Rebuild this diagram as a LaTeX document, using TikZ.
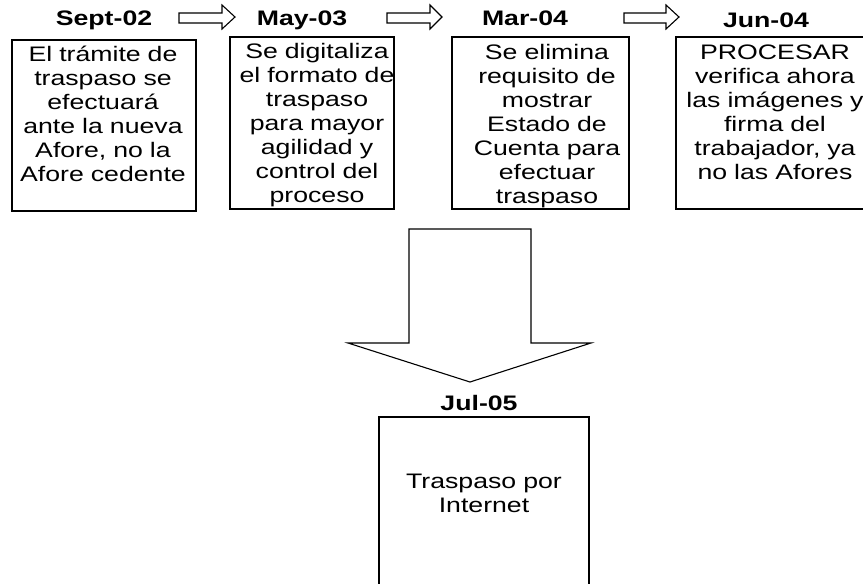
\documentclass[tikz,border=0pt]{standalone}
\usepackage{fontspec}
\setmainfont[FakeStretch=1.27]{Liberation Sans}
\usetikzlibrary{positioning}

\begin{document}
\begin{tikzpicture}[x=1pt, y=-1pt, line join=miter,
  caja/.style={draw, line width=1.3pt, inner sep=0pt},
  texto/.style={text width=220pt, align=center, inner sep=0pt, font=\fontsize{21}{24}\selectfont},
  fecha/.style={inner sep=0pt, font=\fontsize{21}{24}\selectfont\bfseries},
  flecha/.style={draw, line width=1.1pt}]

\useasboundingbox (0,0) rectangle (863,584);
\clip (0,0) rectangle (863,584);

% =============================================================================
% CAJAS (fondo)
% =============================================================================
\node[caja, minimum width=184pt, minimum height=171pt] (caja1) at (104,125.5) {};
\node[caja, minimum width=164pt, minimum height=172pt] (caja2) at (312,123) {};
\node[caja, minimum width=177pt, minimum height=172pt] (caja3) at (540.5,123) {};
\node[caja, minimum width=198pt, minimum height=172pt] (caja4) at (775,123) {};
\node[caja, minimum width=210pt, minimum height=203pt] (caja5) at (484,518.5) {};

% =============================================================================
% FECHAS
% =============================================================================
\node[fecha, anchor=base] (sep02) at (104,25) {Sept-02};
\node[fecha, anchor=base] (may03) at (302,25) {May-03};
\node[fecha, anchor=base] (mar04) at (525,25) {Mar-04};
\node[fecha, anchor=base] (jun04) at (766,27) {Jun-04};
\node[fecha, anchor=base] (jul05) at (479,410) {Jul-05};

% =============================================================================
% TEXTOS
% =============================================================================
\node[texto, anchor=base] (txt1) at (103,61) {El trámite de\\traspaso se\\efectuará\\ante la nueva\\Afore, no la\\Afore cedente};
\node[texto, anchor=base] (txt2) at (317,58) {Se digitaliza\\el formato de\\traspaso\\para mayor\\agilidad y\\control del\\proceso};
\node[texto, anchor=base] (txt3) at (547,59) {Se elimina\\requisito de\\mostrar\\Estado de\\Cuenta para\\efectuar\\traspaso};
\node[texto, anchor=base] (txt4) at (775,59) {PROCESAR\\verifica ahora\\las imágenes y\\firma del\\trabajador, ya\\no las Afores};
\node[texto, anchor=base] (txt5) at (484,488) {Traspaso por\\Internet};

% =============================================================================
% FLECHAS
% =============================================================================
% flechas horizontales entre fechas
\foreach \x/\h/\t in {179/222/235, 387/430/442, 624/666/679} {
    \draw[flecha] (\x,13) -- (\h,13) -- (\h,5) -- (\t,17) -- (\h,29) -- (\h,23) -- (\x,23) -- cycle;
}

% flecha grande hacia abajo
\draw[flecha] (409,229) -- (531,229) -- (531,343) -- (591,343) -- (470,382)
    -- (348,343) -- (409,343) -- cycle;

\end{tikzpicture}
\end{document}
